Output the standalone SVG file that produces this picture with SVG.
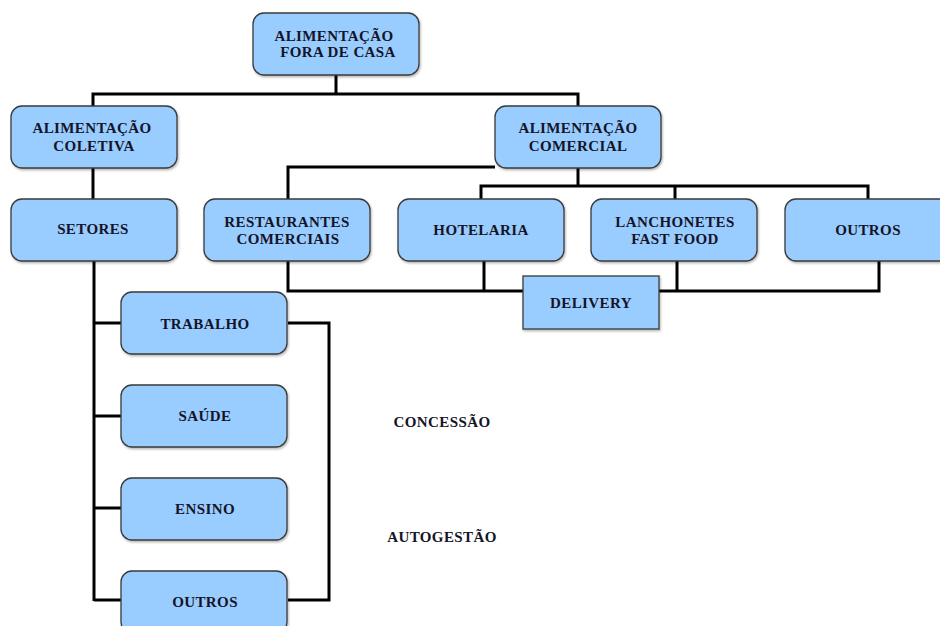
<svg xmlns="http://www.w3.org/2000/svg" width="940" height="626" viewBox="0 0 940 626">
<defs>
<filter id="sh" x="-10%" y="-10%" width="120%" height="130%">
<feDropShadow dx="1" dy="1.5" stdDeviation="1" flood-color="#000" flood-opacity="0.3"/>
</filter>
</defs>
<style>
.box{fill:#99CCFF;stroke:#3a3a3a;stroke-width:1.3;filter:url(#sh)}
.t{font-family:"Liberation Serif","Times New Roman",serif;font-weight:bold;font-size:15px;letter-spacing:0.4px;fill:#141428;text-anchor:middle}
.c{fill:none;stroke:#000;stroke-width:3;stroke-linejoin:miter}
</style>
<rect width="940" height="626" fill="#fff"/>
<g id="connectors">
<path class="c" d="M336,75 V94 M93,94 H578 M93,92.5 V106 M578,92.5 V106"/>
<path class="c" d="M93,168 V199"/>
<path class="c" d="M288,199 V167 H495"/>
<path class="c" d="M578,168 V186 M481,199 V186 H868 V199 M675,186 V199"/>
<path class="c" d="M288,261 V291 H523 M484,261 V291"/>
<path class="c" d="M677,261 V291 M659,291 H879 V261"/>
<path class="c" d="M94,261 V601 M94,323 H121 M94,416 H121 M94,508 H121 M94,600 H121"/>
<path class="c" d="M288,323 H329 V600 H288"/>
</g>
<g id="n-fora">
<rect class="box" x="253" y="13" width="166" height="62" rx="11"/>
<text class="t" x="334" y="41">ALIMENTAÇÃO</text>
<text class="t" x="338" y="57">FORA DE CASA</text>
</g>
<g id="n-coletiva">
<rect class="box" x="11" y="106" width="166" height="62" rx="11"/>
<text class="t" x="92" y="133">ALIMENTAÇÃO</text>
<text class="t" x="94" y="151">COLETIVA</text>
</g>
<g id="n-comercial">
<rect class="box" x="495" y="106" width="166" height="62" rx="11"/>
<text class="t" x="578" y="133">ALIMENTAÇÃO</text>
<text class="t" x="578" y="151">COMERCIAL</text>
</g>
<g id="n-setores">
<rect class="box" x="11" y="199" width="166" height="62" rx="11"/>
<text class="t" x="93" y="234">SETORES</text>
</g>
<g id="n-restaurantes">
<rect class="box" x="204" y="199" width="166" height="62" rx="11"/>
<text class="t" x="287" y="227">RESTAURANTES</text>
<text class="t" x="288" y="244">COMERCIAIS</text>
</g>
<g id="n-hotelaria">
<rect class="box" x="398" y="199" width="166" height="62" rx="11"/>
<text class="t" x="481" y="235">HOTELARIA</text>
</g>
<g id="n-lanchonetes">
<rect class="box" x="591" y="199" width="166" height="62" rx="11"/>
<text class="t" x="675" y="227">LANCHONETES</text>
<text class="t" x="675" y="244">FAST FOOD</text>
</g>
<g id="n-outros-com">
<rect class="box" x="785" y="199" width="166" height="62" rx="11"/>
<text class="t" x="868" y="235">OUTROS</text>
</g>
<g id="n-delivery">
<rect class="box" x="523" y="276" width="136" height="53"/>
<text class="t" x="591" y="308">DELIVERY</text>
</g>
<g id="n-trabalho">
<rect class="box" x="121" y="292" width="166" height="62" rx="11"/>
<text class="t" x="205" y="329">TRABALHO</text>
</g>
<g id="n-saude">
<rect class="box" x="121" y="385" width="166" height="62" rx="11"/>
<text class="t" x="205" y="421">SAÚDE</text>
</g>
<g id="n-ensino">
<rect class="box" x="121" y="478" width="166" height="62" rx="11"/>
<text class="t" x="205" y="514">ENSINO</text>
</g>
<g id="n-outros-set">
<rect class="box" x="121" y="571" width="166" height="62" rx="11"/>
<text class="t" x="205" y="607">OUTROS</text>
</g>
<g id="labels">
<text class="t" x="442" y="427">CONCESSÃO</text>
<text class="t" x="442" y="542">AUTOGESTÃO</text>
</g>
</svg>
